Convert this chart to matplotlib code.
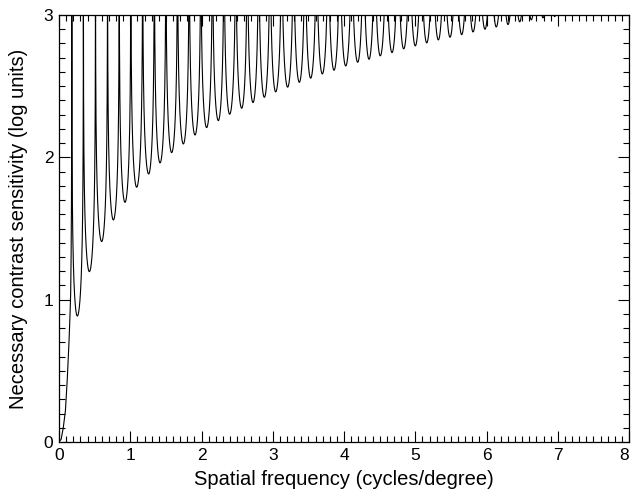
import numpy as np
import matplotlib
matplotlib.use("Agg")
import matplotlib.pyplot as plt
from matplotlib.ticker import MultipleLocator

plt.rcParams['font.family'] = ['Liberation Sans', 'DejaVu Sans']

# initial rise from the origin up to the first zero
rise_x = [0.0, 0.03, 0.06, 0.09, 0.117, 0.14, 0.155, 0.164, 0.17, 0.175, 0.178, 0.18]
rise_y = [0.0, 0.02, 0.10, 0.22, 0.45, 0.70, 0.90, 1.05, 1.30, 1.70, 2.30, 3.20]

# frequencies where the curve shoots off the top (zeros of the transfer)
zero_x = [0.180, 0.342, 0.512, 0.681, 0.845, 1.008, 1.174, 1.338, 1.500, 1.663,
          1.827, 1.990, 2.154, 2.316, 2.480, 2.643, 2.802, 2.962, 3.125, 3.291,
          3.453, 3.614, 3.778, 3.942, 4.108, 4.272, 4.430, 4.592, 4.756, 4.920,
          5.081, 5.243, 5.406, 5.570, 5.732, 5.895, 6.058, 6.220, 6.384, 6.548,
          6.711, 6.875, 7.038, 7.202]

# bottom of each lobe
min_x = [0.257, 0.426, 0.599, 0.763, 0.926, 1.090, 1.258, 1.418, 1.581, 1.745,
         1.909, 2.072, 2.236, 2.395, 2.564, 2.723, 2.882, 3.041, 3.209, 3.373,
         3.532, 3.696, 3.860, 4.024, 4.192, 4.351, 4.509, 4.674, 4.838, 5.001,
         5.161, 5.324, 5.488, 5.652, 5.811, 5.979, 6.137, 6.302, 6.466, 6.629,
         6.793, 6.957, 7.120]
min_y = [0.885, 1.197, 1.408, 1.560, 1.684, 1.790, 1.883, 1.961, 2.033, 2.094,
         2.157, 2.209, 2.258, 2.303, 2.345, 2.385, 2.422, 2.460, 2.493, 2.527,
         2.556, 2.586, 2.612, 2.642, 2.668, 2.689, 2.713, 2.736, 2.762, 2.783,
         2.804, 2.825, 2.844, 2.862, 2.881, 2.900, 2.916, 2.933, 2.952, 2.966,
         2.980, 2.989, 2.996]

x_ticks = [0, 1, 2, 3, 4, 5, 6, 7, 8]
y_ticks = [0, 1, 2, 3]


def lobe(zl, xm, ym, zr, n=80):
    # one lobe between two zeros, bottoming out at (xm, ym)
    ph = np.linspace(1e-4, 1.0, n)
    xl = zl + (xm - zl) * ph
    yl = ym - np.log10(np.sin(ph * np.pi / 2))
    q = ph[::-1]
    xr = xm + (zr - xm) * (1 - q)
    yr = ym - np.log10(np.sin(q * np.pi / 2))
    return np.concatenate([xl, xr[1:]]), np.concatenate([yl, yr[1:]])


xs = [np.array(rise_x)]
ys = [np.array(rise_y)]
for i in range(len(min_x)):
    lx, ly = lobe(zero_x[i], min_x[i], min_y[i], zero_x[i + 1])
    xs.append(lx)
    ys.append(np.minimum(ly, 3.5))
x = np.concatenate(xs)
y = np.concatenate(ys)

fig = plt.figure(figsize=(6.31, 5.0), dpi=100)
ax = fig.add_axes([59 / 631, 58 / 500, 570 / 631, 427 / 500])
ax.plot(x, y, color='black', lw=0.8)

ax.set_xlim(0, 8)
ax.set_ylim(0, 3)
# last x label is drawn by hand so it stays inside the canvas
ax.set_xticks(x_ticks, labels=[str(t) for t in x_ticks[:-1]] + [''])
ax.set_yticks(y_ticks, labels=[str(t) for t in y_ticks])
ax.xaxis.set_minor_locator(MultipleLocator(0.1))
ax.yaxis.set_minor_locator(MultipleLocator(0.1))
ax.tick_params(which='both', direction='in', top=True, right=True, width=0.8,
               labelsize=12.5)
ax.tick_params(which='major', length=8, pad=4)
ax.tick_params(which='minor', length=4)
for s in ax.spines.values():
    s.set_linewidth(0.9)
ax.annotate(str(x_ticks[-1]), xy=(x_ticks[-1], 0), xycoords=('data', 'axes fraction'),
            xytext=(0, -4 - 8 / 1.39 * 0), textcoords='offset points',
            ha='right', va='top', fontsize=12.5)

ax.set_xlabel("Spatial frequency (cycles/degree)", fontsize=14.5)
ax.set_ylabel("Necessary contrast sensitivity (log units)", fontsize=14.5)
ax.xaxis.set_label_coords(0.5, -0.066)
ax.yaxis.set_label_coords(-0.055, 0.5)

fig.savefig("out.png", dpi=100)
